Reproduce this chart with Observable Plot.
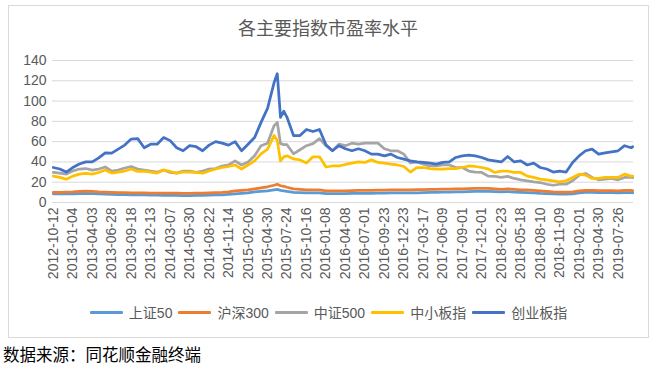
<!DOCTYPE html>
<html><head><meta charset="utf-8">
<script src="https://cdn.jsdelivr.net/npm/d3@7"></script>
<script src="https://cdn.jsdelivr.net/npm/@observablehq/plot@0.6"></script>
<style>
body{margin:0;background:#fff;width:656px;height:370px;position:relative;overflow:hidden;font-family:"Liberation Sans","Noto Sans CJK SC",sans-serif;}
#frame{position:absolute;left:8px;top:5px;width:641px;height:333px;border:1px solid #d9d9d9;box-sizing:border-box;}
#title{position:absolute;left:0;top:16px;width:656px;text-align:center;font-size:18px;line-height:22px;color:#595959;font-family:"Noto Sans CJK SC",sans-serif;}
#chart{position:absolute;left:0;top:45px;}
#legend{position:absolute;left:8px;top:302px;width:641px;height:20px;display:flex;justify-content:center;align-items:center;font-size:14px;color:#595959;font-family:"Liberation Sans","Noto Sans CJK SC",sans-serif;}
.item{display:flex;align-items:center;margin-right:6px;white-space:nowrap;}
.item:last-child{margin-right:0;}
.sw{width:33px;height:3px;margin-right:6px;border-radius:1px;}
#caption{position:absolute;left:3px;top:344px;font-size:16.5px;line-height:20px;color:#000;font-family:"Noto Sans CJK SC",sans-serif;}
</style>
</head><body>
<div id="frame"></div>
<div id="title">各主要指数市盈率水平</div>
<div id="chart"></div>
<div id="legend"></div>
<div id="caption">数据来源：同花顺金融终端</div>
<script>
const tickLabels = ["2012-10-12","2013-01-04","2013-04-03","2013-06-28","2013-09-18","2013-12-13","2014-03-07","2014-05-30","2014-08-22","2014-11-14","2015-02-06","2015-04-30","2015-07-24","2015-10-16","2016-01-08","2016-04-08","2016-07-01","2016-09-23","2016-12-23","2017-03-17","2017-06-09","2017-09-01","2017-12-01","2018-02-23","2018-05-18","2018-08-10","2018-11-09","2019-02-01","2019-04-30","2019-07-26"];
const yTicks = [0,20,40,60,80,100,120,140];
const weeks = [0,4,8,12,16,20,24,28,32,36,40,44,48,52,56,60,64,68,72,76,80,84,88,
  92,96,100,104,108,112,116,120,124,128,132,136,
  138,140,142,
  144,148,152,156,160,164,168,172,176,
  180,184,188,192,196,200,204,208,212,216,220,224,228,232,236,240,244,248,252,256,260,264,268,
  272,276,280,284,288,292,296,300,304,308,312,316,320,324,328,332,336,340,344,348,352,356,
  357];
const seriesNames = ["上证50","沪深300","中证500","中小板指","创业板指"];
const seriesColors = ["#5B9BD5","#ED7D31","#A5A5A5","#FFC000","#4472C4"];
const sz50 = [8.5,8.5,8.4,8.5,8.8,9,8.8,8.5,8.2,8,7.8,7.8,7.6,7.5,7.4,7.2,7.2,7,7,7,6.8,6.8,7,
  7,7.2,7.5,7.6,8,8.5,9,9.5,10.5,11,11.5,12.5,
  13,12,11.5,
  11,10,9.8,9.5,9.5,9.5,8.8,8.8,8.8,
  8.8,9,9,9,9,9.2,9.3,9.5,9.5,9.5,9.5,9.6,9.8,10,10,10.2,10.3,10.5,10.5,10.8,11,11,11,
  10.8,10.5,10.8,10.3,10,9.8,9.5,9,8.8,8.5,8.3,8.2,8.5,9.5,10,10,9.8,9.8,9.8,9.5,9.8,9.8,
  9.6];
const hs300 = [10,10,10.2,10.5,11,11.2,11,10.5,10.3,10,9.8,9.8,9.6,9.5,9.5,9.3,9.3,9.2,9.2,9.2,9,9,9.2,
  9.3,9.5,9.8,10,10.5,11.5,12,12.5,13.5,14.5,15.5,17,
  18,16.5,16,
  15,13.5,13,12.5,12.5,12.5,11.5,11.5,11.5,
  11.5,11.8,12,12,12,12.2,12.3,12.5,12.5,12.5,12.5,12.7,12.8,13,13,13.2,13.3,13.5,13.5,13.8,14,14,14,
  13.5,13,13.5,13,12.5,12.5,12,11.5,11,10.5,10.3,10.2,10.5,11.5,12,12,11.8,11.8,11.8,11.5,12,12,
  11.8];
const zz500 = [29.6,29,28,31,33,33.5,32,33,35,31,32,34,35.5,33,32,31,30,32,29.6,29,31,31,29.8,
  31,33,33.5,36,37,41,37,40,46,56,58.5,75.6,
  79,58,57,
  57,48,52,56,58,63,56,51,57.5,
  56,58.5,57.5,58.5,58.5,58.5,53,51,51,47.7,39,40,37.8,36,36,37,37,34.5,34.5,31,30,29.6,26,
  25.7,24.7,25.7,23.7,22.4,21.4,20.4,19.7,18,17,18,18,21.4,27,28.6,24.7,22.4,23,23.7,22.4,24.7,24.7,
  24.5];
const zxb = [26,24.7,23,26,28,28.6,28,29.6,32,29,30,31,33,30.6,31,30,29,32,30.6,29,30,30,29.6,
  29,31,33,34.5,35.5,37,33,37,41,48,52.6,66,
  61,41,45,
  46,43,42,39,45,45,35,36,36,
  37.5,38.8,40,39.5,42,39.5,38.8,37.8,37,35.5,30,34.5,34.5,33.5,33,33,33.5,33.5,34.5,36,35.5,34.5,33.2,
  29.6,31,31,29.6,29.6,26,24.7,23,22.4,21.4,20.4,21.4,24.7,28,27,23.7,23.7,24.7,24.7,24.7,28,26,
  26];
const cyb = [34.5,33,30,34.5,38,40,40,44,49,48.7,52.6,56.6,62.5,63,54,57.5,57.5,64,61,54,51,56,55,
  51,56.6,60,58.5,56.6,60,51,57.5,64,79,92.8,118,
  127,84,90,
  84,66,66,72,70,72,57,51,56,
  53,51,53,51,47.7,47.7,46,47.7,44.4,42.8,41,40,39.5,38.8,37.8,39.5,40,44.4,46,46.7,46,44.4,42,
  41,40,45.4,40,41,37,38.8,34.5,33,30,31,30,39.5,46,51,52.6,47.7,49,50,51,56,54,
  55];
const seriesValues = [sz50, hs300, zz500, zxb, cyb];

const tickWeeks = tickLabels.map((_, i) => i * 12);
const lineMarks = seriesValues.map((vals, s) =>
  Plot.line(vals.map((v, i) => ({week: weeks[i], value: v})), {
    x: "week", y: "value", stroke: seriesColors[s], strokeWidth: 2.75,
    strokeLinejoin: "round", strokeLinecap: "round"
  })
);

const chart = Plot.plot({
  width: 656, height: 245,
  marginLeft: 52, marginRight: 23, marginTop: 15, marginBottom: 88,
  style: {fontSize: "14px", fontFamily: "'Liberation Sans', sans-serif", color: "#595959", background: "transparent"},
  x: {domain: [-0.5, 357.5], axis: null},
  y: {domain: [0, 140], axis: null},
  marks: [
    Plot.gridY(yTicks, {stroke: "#d9d9d9", strokeOpacity: 1, strokeWidth: 1}),
    Plot.axisY(yTicks, {tickSize: 0, tickPadding: 6, fontSize: 14, label: null}),
    Plot.axisX(tickWeeks, {tickSize: 0, tickPadding: 5, tickRotate: -90, fontSize: 14, label: null,
      tickFormat: d => tickLabels[tickWeeks.indexOf(d)]}),
    ...lineMarks
  ]
});
document.getElementById("chart").appendChild(chart);

const legend = document.getElementById("legend");
seriesNames.forEach((n, i) => {
  const it = document.createElement("div");
  it.className = "item";
  const sw = document.createElement("div");
  sw.className = "sw";
  sw.style.background = seriesColors[i];
  const t = document.createElement("span");
  t.textContent = n;
  it.appendChild(sw); it.appendChild(t);
  legend.appendChild(it);
});
</script>
</body></html>
